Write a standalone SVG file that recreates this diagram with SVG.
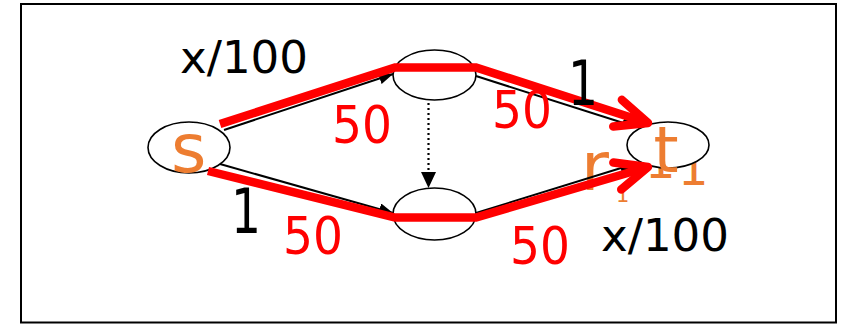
<svg xmlns="http://www.w3.org/2000/svg" width="851" height="324" viewBox="0 0 851 324">
<style>
.node{fill:#ffffff;stroke:#000000;stroke-width:1.6}
.edge{stroke:#000000;stroke-width:2;fill:none}
.dot{stroke:#000000;stroke-width:2.2;fill:none;stroke-dasharray:2 3}
.flow{stroke:#ff0000;stroke-width:8.5;fill:none;stroke-linejoin:miter}
.lbl{font-family:"DejaVu Sans",sans-serif}
.blk{fill:#000000}
.red{fill:#ff0000}
.org{fill:#ED7D31}
</style>
<defs>
<marker id="arr" markerUnits="userSpaceOnUse" viewBox="0 0 14 12" refX="14" refY="6" markerWidth="14" markerHeight="12" orient="auto">
<path d="M0,0 L14,6 L0,12 Z" fill="#000000"/>
</marker>
<marker id="arrDot" markerUnits="userSpaceOnUse" viewBox="0 0 16 15" refX="16" refY="7.5" markerWidth="16" markerHeight="15" orient="auto">
<path d="M0,0 L16,7.5 L0,15 Z" fill="#000000"/>
</marker>
<marker id="chev" markerUnits="userSpaceOnUse" refX="0" refY="0" markerWidth="1" markerHeight="1" orient="auto" style="overflow:visible">
<path d="M-32,-14 L0,0 L-32,14" fill="none" stroke="#ff0000" stroke-width="8.5" stroke-linecap="round" stroke-linejoin="round"/>
</marker>
</defs>
<rect x="21" y="4" width="815" height="318.5" fill="#ffffff" stroke="#000000" stroke-width="2"/>

<g id="hidden-label">
<text class="lbl org" x="581" y="190" font-size="68">r</text>
<text class="lbl org" x="616" y="202" font-size="21">1</text>
<text class="lbl org" x="645" y="178" font-size="48">1</text>
<text class="lbl org" x="678" y="185" font-size="48">1</text>
</g>

<g id="node-s">
<ellipse class="node" cx="189" cy="147.5" rx="41" ry="25.5"/>
</g>
<g id="node-u">
<ellipse class="node" cx="434.5" cy="75" rx="41.5" ry="25"/>
</g>
<g id="node-v">
<ellipse class="node" cx="434.5" cy="214" rx="41.5" ry="26"/>
</g>
<g id="node-t">
<ellipse class="node" cx="668" cy="145" rx="41" ry="23"/>
</g>

<g id="connectors">
<path class="edge" d="M224,130 L393,74" marker-end="url(#arr)"/>
<path class="edge" d="M220,164 L393,213" marker-end="url(#arr)"/>
<path class="edge" d="M476,76 L636,127" marker-end="url(#arr)"/>
<path class="edge" d="M476,213 L634,164" marker-end="url(#arr)"/>
<path class="dot" d="M428.5,103 L428.5,188" marker-end="url(#arrDot)"/>
<path class="flow" d="M220,124 L395,67.5 L476,67.5 L648,123" marker-end="url(#chev)"/>
<path class="flow" d="M208,171 L395,217.5 L476,217.5 L648,167" marker-end="url(#chev)"/>
</g>

<g id="node-labels">
<text class="lbl org" x="171" y="172" font-size="68">s</text>
<text class="lbl org" x="666" y="172" font-size="64" text-anchor="middle">t</text>
</g>

<g id="edge-labels">
<text class="lbl blk" x="180" y="73" font-size="44" textLength="128" lengthAdjust="spacingAndGlyphs">x/100</text>
<text class="lbl blk" x="601" y="251" font-size="44" textLength="128" lengthAdjust="spacingAndGlyphs">x/100</text>
<text class="lbl blk" x="568" y="105" font-size="62" textLength="30" lengthAdjust="spacingAndGlyphs">1</text>
<text class="lbl blk" x="231" y="233" font-size="62" textLength="30" lengthAdjust="spacingAndGlyphs">1</text>
<text class="lbl red" x="332" y="143" font-size="52" textLength="60" lengthAdjust="spacingAndGlyphs">50</text>
<text class="lbl red" x="492" y="128" font-size="52" textLength="60" lengthAdjust="spacingAndGlyphs">50</text>
<text class="lbl red" x="283" y="254" font-size="52" textLength="60" lengthAdjust="spacingAndGlyphs">50</text>
<text class="lbl red" x="510" y="264" font-size="52" textLength="60" lengthAdjust="spacingAndGlyphs">50</text>
</g>
</svg>
